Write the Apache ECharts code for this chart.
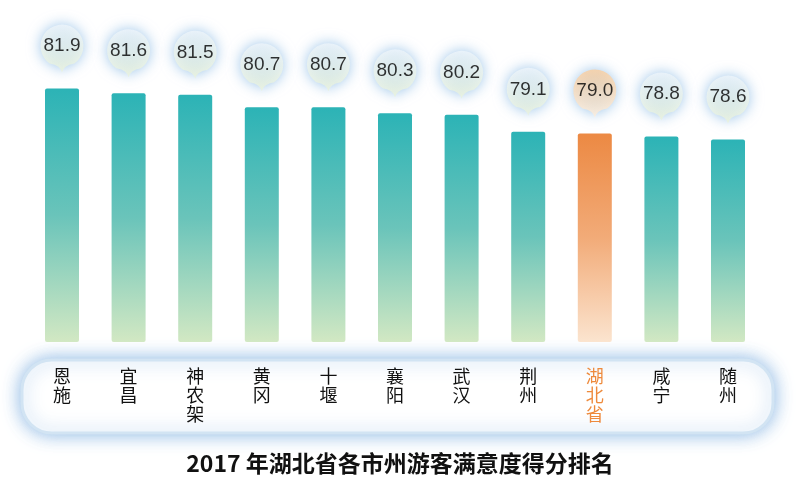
<!DOCTYPE html>
<html><head><meta charset="utf-8">
<script src="https://cdn.jsdelivr.net/npm/echarts@6/dist/echarts.min.js"></script>
<style>html,body{margin:0;padding:0;background:#fff}#c{width:800px;height:488px}</style>
</head><body><div id="c"></div>
<script>
const categories = ['恩施','宜昌','神农架','黄冈','十堰','襄阳','武汉','荆州','湖北省','咸宁','随州'];
const scores = [81.9, 81.6, 81.5, 80.7, 80.7, 80.3, 80.2, 79.1, 79.0, 78.8, 78.6];
const highlight = '湖北省';
const titleText = '2017 年湖北省各市州游客满意度得分排名';

const chart = echarts.init(document.getElementById('c'), null, {renderer:'canvas'});
const grad = (stops)=>new echarts.graphic.LinearGradient(0,0,0,1,stops.map(s=>({offset:s[0],color:s[1]})));
const tealBar = grad([[0,'#2cb3b6'],[0.5,'#6ac4ba'],[1,'#d2e8c3']]);
const orangeBar = grad([[0,'#ec8943'],[0.5,'#f2ab78'],[1,'#fbe4cf']]);
const tealPin = grad([[0,'#eef5fb'],[1,'#e9f2da']]);
const orangePin = grad([[0,'#fbcd9c'],[1,'#fdeedd']]);
const pinPath = 'path://M50,112 Q47,96 21.4,91 A50,50 0 1 1 78.6,91 Q53,96 50,112 Z';

const barData = scores.map((v,i)=>({value:v,itemStyle:{color: categories[i]===highlight?orangeBar:tealBar}}));
const pinData = scores.map((v,i)=>({value:v,itemStyle:{color: categories[i]===highlight?orangePin:tealPin}}));

chart.setOption({
  animation:false,
  grid:{left:28.7,right:38.7,top:71.6,bottom:146},
  xAxis:{type:'category',data:categories,axisLine:{show:false},axisTick:{show:false},
    axisLabel:{margin:25,interval:0,fontFamily:'"Noto Sans CJK SC"',fontSize:18,lineHeight:19,color:'#111',
      formatter:(v)=>{const s=v.split('').join('\n');return v===highlight?'{h|'+s+'}':s;},
      rich:{h:{color:'#ee8a3c',fontFamily:'"Noto Sans CJK SC"',fontSize:18,lineHeight:19}}}},
  yAxis:{type:'value',min:65.5,max:83,show:false,splitLine:{show:false}},
  graphic:[
    {type:'rect',z:-10,shape:{x:22,y:360,width:751,height:73,r:30},
      style:{fill:'#fff',stroke:'#d2e4f3',lineWidth:3,shadowBlur:18,shadowColor:'rgba(110,165,220,0.8)'}},
    {type:'text',left:'center',top:452,style:{text:titleText,fontFamily:'"Noto Sans CJK SC"',fontSize:23,fontWeight:'bold',fill:'#111'}}
  ],
  series:[
    {type:'bar',data:barData,barWidth:34,itemStyle:{borderRadius:[2,2,2,2]}},
    {type:'scatter',data:pinData,symbol:pinPath,symbolSize:[43,48],symbolOffset:[0,-40],
      itemStyle:{shadowBlur:14,shadowColor:'rgba(120,175,225,0.9)'},
      label:{show:true,position:'inside',offset:[0,-2.5],formatter:(p)=>p.value.toFixed(1),
        fontFamily:'"Liberation Sans", Arial',fontSize:19,color:'#000',
        textBorderWidth:0,textShadowBlur:0,textShadowColor:'transparent'}}
  ]
});
</script></body></html>
